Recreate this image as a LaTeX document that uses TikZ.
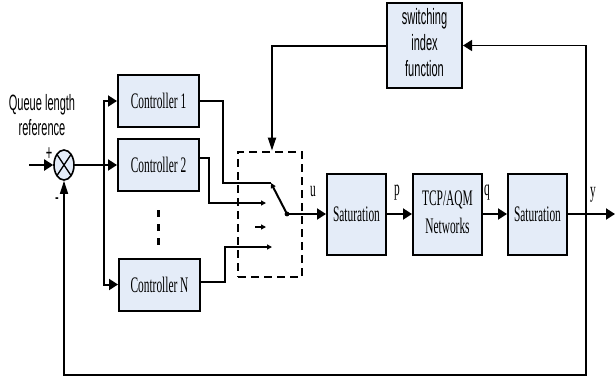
\documentclass[tikz,border=0pt]{standalone}
\usepackage{fontspec}
\usepackage{graphicx}
\setmainfont{Liberation Serif}
\newfontfamily\sansf{Liberation Sans}
\usetikzlibrary{arrows.meta,shapes.geometric}
\definecolor{boxfill}{RGB}{228,236,248}
\newcommand{\ser}[1]{\scalebox{0.95}[1.85]{#1}}
\newcommand{\sns}[1]{\scalebox{0.92}[1.85]{\sansf #1}}
\begin{document}
\begin{tikzpicture}[x=1pt,y=-1pt,
  blk/.style={draw,line width=2pt,fill=boxfill,inner sep=0pt,font=\fontsize{12}{14}\selectfont},
  wire/.style={line width=2pt},
  fbwire/.style={line width=1.5pt},
  arr/.style={wire,-{Triangle[length=9pt,width=11pt]}},
  varr/.style={-{Triangle[length=13pt,width=8pt]}},
  tip/.style={-{Triangle[length=5pt,width=5pt]}},
  lbl/.style={inner sep=0pt,font=\fontsize{12}{14}\selectfont}]
\useasboundingbox (0,0) rectangle (616,384);

% blocks
\node[blk,minimum width=81pt,minimum height=52pt] (c1) at (158.5,101) {\ser{Controller 1}};
\node[blk,minimum width=81pt,minimum height=52pt] (c2) at (158.5,165) {\ser{Controller 2}};
\node[blk,minimum width=81pt,minimum height=52pt] (cn) at (159.5,284.5) {\ser{Controller N}};
\node[blk,minimum width=59pt,minimum height=81pt] (s1) at (356.5,214) {\ser{Saturation}};
\node[blk,minimum width=69pt,minimum height=81pt] (tcp) at (447.5,214)
  {\ser{\begin{tabular}{@{}c@{}}TCP/AQM\\[1pt]Networks\end{tabular}}};
\node[blk,minimum width=59pt,minimum height=81pt] (s2) at (537.5,214) {\ser{Saturation}};
\node[blk,minimum width=75pt,minimum height=85pt,font=\fontsize{12}{14}\selectfont] (sw) at (424.5,45.5)
  {\sns{\begin{tabular}{@{}c@{}}switching\\index\\function\end{tabular}}};

% summing junction
\node[draw,ellipse,line width=1.6pt,fill=boxfill,minimum width=20pt,minimum height=30pt,inner sep=0pt] (sum) at (64,165) {};
\draw[line width=1.3pt] ([shift={(-7.07,-10.6)}]sum.center) -- ([shift={(7.07,10.6)}]sum.center);
\draw[line width=1.3pt] ([shift={(-7.07,10.6)}]sum.center) -- ([shift={(7.07,-10.6)}]sum.center);

% texts
\node[lbl,font=\fontsize{12}{13.6}\selectfont] (qlr) at (42,118)
  {\sns{\begin{tabular}{@{}c@{}}Queue length\\reference\end{tabular}}};
\node[lbl] (plus) at (49,154) {\sns{+}};
\node[lbl] (minus) at (57,201) {\sns{-}};
\node[lbl] (lu) at (313,192) {\ser{u}};
\node[lbl] (lp) at (397,193) {\ser{p}};
\node[lbl] (lq) at (487,193) {\ser{q}};
\node[lbl] (ly) at (593,195) {\ser{y}};

% selector box
\node[draw,line width=2.8pt,dash pattern=on 8pt off 5pt,minimum width=64pt,minimum height=125pt,inner sep=0pt] (sel) at (270,214.5) {};

% coordinates
\coordinate (in) at (29,165);
\coordinate (bus) at (104,165);
\coordinate (k1) at (271,183);
\coordinate (k2) at (266,203);
\coordinate (k3a) at (255,227);
\coordinate (k3) at (266,227);
\coordinate (k4) at (272,247);
\coordinate (pv) at (287,214);
\coordinate (out) at (615,214);
\coordinate (fb) at (586,214);
\coordinate (fbb) at (586,375);

% input side
\draw[arr] (in) -- (sum.west);
\draw[arr] (sum.east) -- (c2.west);
\draw[arr] (bus) |- (c1.west);
\draw[arr] (bus) |- (cn.west);
\draw[line width=3pt,dash pattern=on 7pt off 7pt] (158,210) -- (158,245);

% controller outputs into switch
\draw[wire] (c1.east) -- ++(23,0) |- (k1);
\draw[wire,tip] ([yshift=7pt]c2.east) -- ++(9,0) |- (k2);
\draw[wire,tip] ([yshift=2.5pt]cn.east) -- ++(24,0) |- (k4);
\draw[wire,tip] (k3a) -- (k3);
\draw[wire,tip] (pv) -- (k1);
\fill (pv) circle (2.4pt);

% forward path
\draw[arr] (pv) -- (s1.west);
\draw[arr] (s1.east) -- (tcp.west);
\draw[arr] (tcp.east) -- (s2.west);
\draw[arr] (s2.east) -- (out);

% feedback paths
\draw[fbwire,-{Triangle[length=9pt,width=11pt]}] (fb) |- (sw.east);
\draw[wire,varr] (sw.west) -| ([xshift=2pt]sel.north);
\draw[fbwire,varr] (fb) -- (fbb) -| (sum.south);
\end{tikzpicture}
\end{document}
